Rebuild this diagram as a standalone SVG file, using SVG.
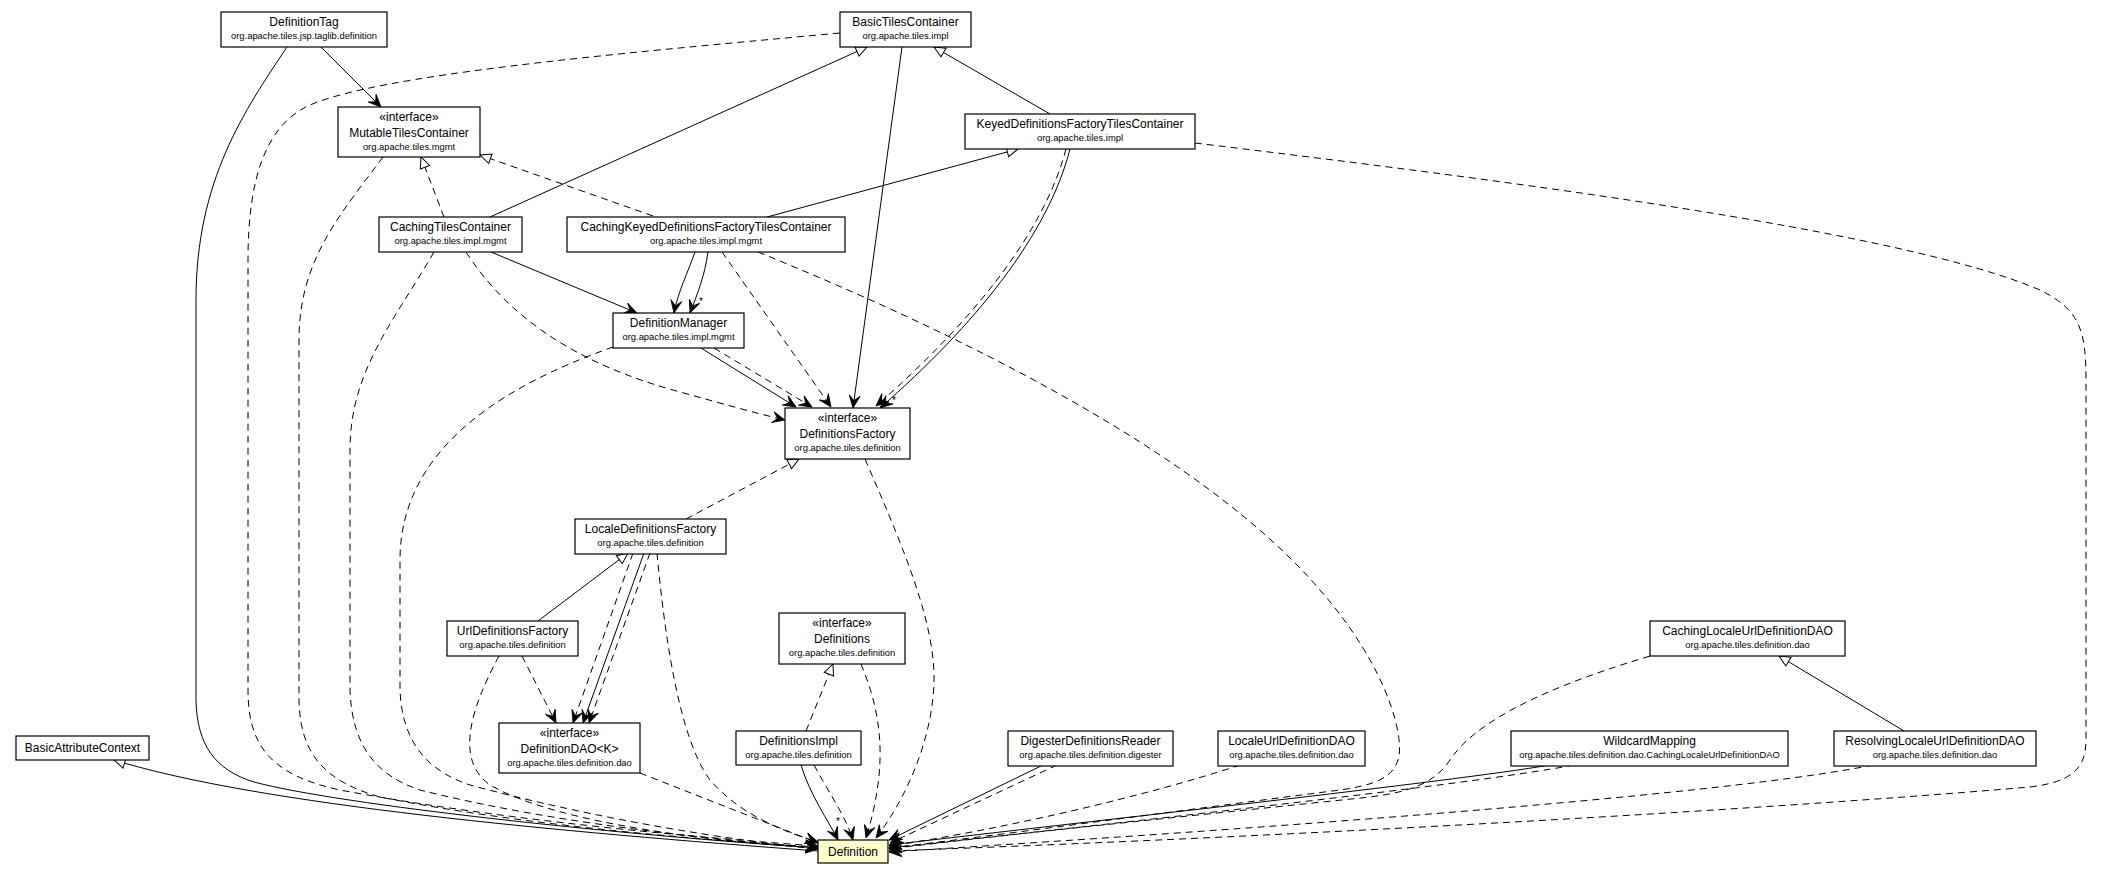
<svg xmlns="http://www.w3.org/2000/svg" width="2101" height="880" viewBox="0 0 2101 880">
<style>
.n rect{fill:#fff;stroke:#000;stroke-width:1.2}
.n rect.y{fill:#ffffcc}
text{font-family:"Liberation Sans",Arial,sans-serif;fill:#000;text-anchor:middle}
.t{font-size:12px}
.p{font-size:9.4px}
.s{font-size:10px}
.e path{fill:none;stroke:#000;stroke-width:1}
.e .d{stroke-dasharray:7,5}
.e .v{marker-end:url(#vee)}
.e .g{marker-end:url(#tri)}
</style>
<defs>
<marker id="vee" markerUnits="userSpaceOnUse" markerWidth="16" markerHeight="14" refX="12.5" refY="6" orient="auto" overflow="visible">
<path d="M0,0.5 L12.5,6 L0,11.5 L5,6 Z" fill="#000" stroke="#000" stroke-width="0.8" stroke-dasharray="none"/>
</marker>
<marker id="tri" markerUnits="userSpaceOnUse" markerWidth="14" markerHeight="12" refX="11" refY="5" orient="auto" overflow="visible">
<path d="M0,0 L11,5 L0,10 Z" fill="#fff" stroke="#000" stroke-width="1" stroke-dasharray="none"/>
</marker>
</defs>
<rect width="2101" height="880" fill="#fff"/>
<g id="connectors" class="e">
<path class="g" d="M818,851 C560,832 260,805 114,760"/>
<path class="g" d="M490,217 L867,47"/>
<path class="g" d="M1050,114 L934,47"/>
<path class="g" d="M767,217 L1018,149"/>
<path class="g" d="M538,621 L628,553"/>
<path class="g" d="M1904,731 L1779,656"/>
<path class="g d" d="M444,217 L421,157"/>
<path class="g d" d="M653,216 L480,155"/>
<path class="g d" d="M686,519 L799,459"/>
<path class="g d" d="M806,731 L833,664"/>
<path class="v" d="M321,47 L381,107"/>
<path class="v" d="M287,47 C245,110 196,180 196,300 L196,700 C197,745 215,770 254,782 C340,805 620,835 818,848"/>
<path class="v" d="M491,252 L637,313"/>
<path class="v" d="M695,252 C688,272 678,292 674,313"/>
<path class="v" d="M708,252 C705,275 697,295 690,313"/>
<path class="v" d="M701,348 L796,407"/>
<path class="v" d="M902,47 L853,408"/>
<path class="v" d="M1070,149 C1048,235 975,325 880,408"/>
<path class="v" d="M801,765 C810,795 828,820 838,840"/>
<path class="v" d="M1043,765 L889,840"/>
<path class="v" d="M1550,765 C1450,782 1100,820 889,845"/>
<path class="v" d="M644,553 L583,723"/>
<path class="v d" d="M840,33 C600,55 380,75 310,105 C265,125 248,180 248,260 L248,690 C248,745 270,775 340,790 C500,820 700,838 818,846"/>
<path class="v d" d="M383,157 C340,215 299,260 299,340 L299,700 C300,750 320,780 380,797 C520,825 700,840 818,847"/>
<path class="v d" d="M434,252 C395,320 350,370 350,450 L350,690 C352,745 375,775 420,790 C560,825 720,840 818,848"/>
<path class="v d" d="M613,347 C520,380 400,440 400,560 L400,690 C402,740 425,770 470,785 C600,820 730,840 818,849"/>
<path class="v d" d="M466,252 C510,320 580,365 680,392 C720,403 755,413 785,420"/>
<path class="v d" d="M714,348 L812,407"/>
<path class="v d" d="M722,252 L831,407"/>
<path class="v d" d="M1066,149 C1044,233 972,322 876,406"/>
<path class="v d" d="M865,459 C900,540 935,620 934,680 C933,740 905,800 876,838"/>
<path class="v d" d="M861,664 C880,710 890,760 866,838"/>
<path class="v d" d="M814,765 C830,795 845,815 853,840"/>
<path class="v d" d="M1057,765 L890,843"/>
<path class="v d" d="M1240,765 C1150,795 1000,830 889,846"/>
<path class="v d" d="M758,252 C950,330 1200,450 1320,590 C1390,670 1405,740 1398,760 C1392,778 1375,785 1340,790 C1200,808 1000,835 889,848"/>
<path class="v d" d="M1195,143 C1500,180 1900,230 2040,290 C2080,310 2086,330 2086,380 L2086,740 C2086,770 2070,782 2030,787 C1700,815 1200,840 889,851"/>
<path class="v d" d="M1650,656 C1520,695 1470,730 1450,760 C1435,783 1410,792 1370,797 C1200,815 1000,835 889,849"/>
<path class="v d" d="M1574,765 C1470,785 1100,825 889,848"/>
<path class="v d" d="M1873,765 C1750,790 1400,820 889,852"/>
<path class="v d" d="M633,553 L573,723"/>
<path class="v d" d="M650,553 L589,723"/>
<path class="v d" d="M657,553 C665,640 680,740 710,780 C740,815 785,832 818,842"/>
<path class="v d" d="M640,773 L818,843"/>
<path class="v d" d="M522,656 L556,723"/>
<path class="v d" d="M499,656 C470,710 455,760 490,785 C560,825 720,842 818,848"/>
<text class="s" x="701" y="305">*</text>
<text class="s" x="894" y="404">*</text>
<text class="s" x="838" y="825">*</text>
</g>
<g id="DefinitionTag" class="n"><rect x="221" y="12" width="166" height="35"/><text class="t" x="304" y="26">DefinitionTag</text><text class="p" x="304" y="38.5">org.apache.tiles.jsp.taglib.definition</text></g>
<g id="BasicTilesContainer" class="n"><rect x="840" y="12" width="131" height="35"/><text class="t" x="905.5" y="26">BasicTilesContainer</text><text class="p" x="905.5" y="38.5">org.apache.tiles.impl</text></g>
<g id="MutableTilesContainer" class="n"><rect x="338" y="107" width="142" height="50"/><text class="t" x="409" y="121">«interface»</text><text class="t" x="409" y="137">MutableTilesContainer</text><text class="p" x="409" y="149.5">org.apache.tiles.mgmt</text></g>
<g id="KeyedDefinitionsFactoryTilesContainer" class="n"><rect x="965" y="114" width="230" height="35"/><text class="t" x="1080" y="128">KeyedDefinitionsFactoryTilesContainer</text><text class="p" x="1080" y="140.5">org.apache.tiles.impl</text></g>
<g id="CachingTilesContainer" class="n"><rect x="379" y="217" width="143" height="35"/><text class="t" x="450.5" y="231">CachingTilesContainer</text><text class="p" x="450.5" y="243.5">org.apache.tiles.impl.mgmt</text></g>
<g id="CachingKeyedDefinitionsFactoryTilesContainer" class="n"><rect x="567" y="217" width="278" height="35"/><text class="t" x="706" y="231">CachingKeyedDefinitionsFactoryTilesContainer</text><text class="p" x="706" y="243.5">org.apache.tiles.impl.mgmt</text></g>
<g id="DefinitionManager" class="n"><rect x="613" y="313" width="131" height="35"/><text class="t" x="678.5" y="327">DefinitionManager</text><text class="p" x="678.5" y="339.5">org.apache.tiles.impl.mgmt</text></g>
<g id="DefinitionsFactory" class="n"><rect x="785" y="408" width="125" height="51"/><text class="t" x="847.5" y="422">«interface»</text><text class="t" x="847.5" y="438">DefinitionsFactory</text><text class="p" x="847.5" y="450.5">org.apache.tiles.definition</text></g>
<g id="LocaleDefinitionsFactory" class="n"><rect x="575" y="519" width="151" height="35"/><text class="t" x="650.5" y="533">LocaleDefinitionsFactory</text><text class="p" x="650.5" y="545.5">org.apache.tiles.definition</text></g>
<g id="UrlDefinitionsFactory" class="n"><rect x="447" y="621" width="131" height="35"/><text class="t" x="512.5" y="635">UrlDefinitionsFactory</text><text class="p" x="512.5" y="647.5">org.apache.tiles.definition</text></g>
<g id="Definitions" class="n"><rect x="779" y="613" width="126" height="51"/><text class="t" x="842" y="627">«interface»</text><text class="t" x="842" y="643">Definitions</text><text class="p" x="842" y="655.5">org.apache.tiles.definition</text></g>
<g id="DefinitionDAO" class="n"><rect x="499" y="723" width="141" height="50"/><text class="t" x="569.5" y="737">«interface»</text><text class="t" x="569.5" y="753">DefinitionDAO&lt;K&gt;</text><text class="p" x="569.5" y="765.5">org.apache.tiles.definition.dao</text></g>
<g id="CachingLocaleUrlDefinitionDAO" class="n"><rect x="1650" y="621" width="195" height="35"/><text class="t" x="1747.5" y="635">CachingLocaleUrlDefinitionDAO</text><text class="p" x="1747.5" y="647.5">org.apache.tiles.definition.dao</text></g>
<g id="BasicAttributeContext" class="n"><rect x="16" y="736" width="133" height="24"/><text class="t" x="82.5" y="752">BasicAttributeContext</text></g>
<g id="DefinitionsImpl" class="n"><rect x="736" y="731" width="125" height="34"/><text class="t" x="798.5" y="745">DefinitionsImpl</text><text class="p" x="798.5" y="757.5">org.apache.tiles.definition</text></g>
<g id="DigesterDefinitionsReader" class="n"><rect x="1008" y="731" width="165" height="35"/><text class="t" x="1090.5" y="745">DigesterDefinitionsReader</text><text class="p" x="1090.5" y="757.5">org.apache.tiles.definition.digester</text></g>
<g id="LocaleUrlDefinitionDAO" class="n"><rect x="1218" y="731" width="147" height="35"/><text class="t" x="1291.5" y="745">LocaleUrlDefinitionDAO</text><text class="p" x="1291.5" y="757.5">org.apache.tiles.definition.dao</text></g>
<g id="WildcardMapping" class="n"><rect x="1511" y="731" width="277" height="35"/><text class="t" x="1649.5" y="745">WildcardMapping</text><text class="p" x="1649.5" y="757.5">org.apache.tiles.definition.dao.CachingLocaleUrlDefinitionDAO</text></g>
<g id="ResolvingLocaleUrlDefinitionDAO" class="n"><rect x="1834" y="731" width="202" height="35"/><text class="t" x="1935" y="745">ResolvingLocaleUrlDefinitionDAO</text><text class="p" x="1935" y="757.5">org.apache.tiles.definition.dao</text></g>
<g id="Definition" class="n"><rect class="y" x="818" y="840" width="70" height="23"/><text class="t" x="853" y="856">Definition</text></g>
</svg>
